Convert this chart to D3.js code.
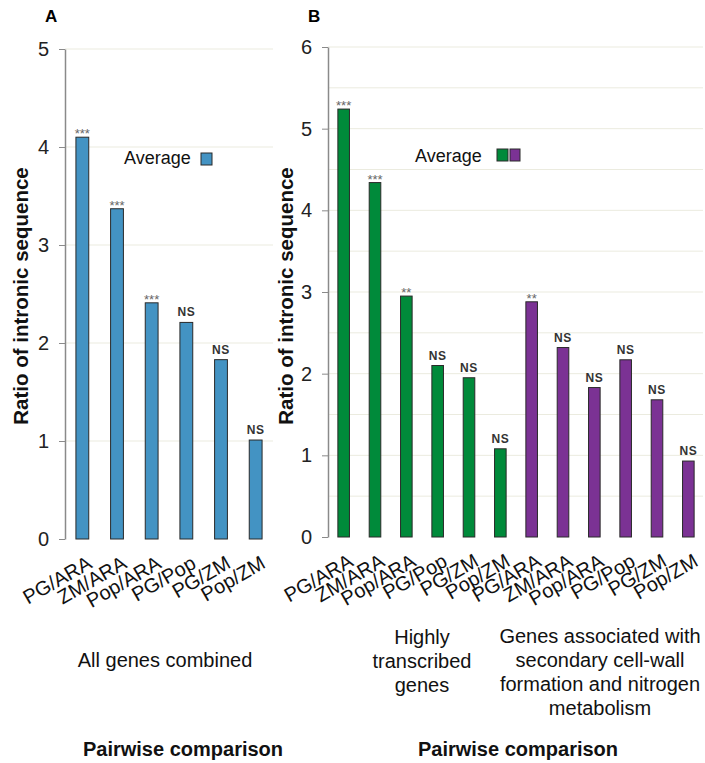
<!DOCTYPE html>
<html>
<head>
<meta charset="utf-8">
<script src="https://cdn.jsdelivr.net/npm/d3@7"></script>
<style>
  html, body { margin: 0; padding: 0; background: #fff; }
  svg { display: block; font-family: "Liberation Sans", Arial, sans-serif; }
</style>
</head>
<body>
<svg id="chart" width="705" height="763"></svg>
<script>
// ---- data ----
const catsA = ["PG/ARA", "ZM/ARA", "Pop/ARA", "PG/Pop", "PG/ZM", "Pop/ZM"];
const valsA = [4.10, 3.37, 2.41, 2.21, 1.83, 1.01];
const sigA  = ["***", "***", "***", "NS", "NS", "NS"];

const catsB = ["PG/ARA", "ZM/ARA", "Pop/ARA", "PG/Pop", "PG/ZM", "Pop/ZM",
               "PG/ARA", "ZM/ARA", "Pop/ARA", "PG/Pop", "PG/ZM", "Pop/ZM"];
const valsB = [5.24, 4.34, 2.95, 2.10, 1.95, 1.08, 2.88, 2.32, 1.83, 2.17, 1.68, 0.93];
const sigB  = ["***", "***", "**", "NS", "NS", "NS", "**", "NS", "NS", "NS", "NS", "NS"];
const groupB = ["high", "high", "high", "high", "high", "high",
                "cell", "cell", "cell", "cell", "cell", "cell"];

const ticksA = [0, 1, 2, 3, 4, 5];
const ticksB = [0, 1, 2, 3, 4, 5, 6];
const gridB  = [0.5, 1, 1.5, 2, 2.5, 3, 3.5, 4, 4.5, 5, 5.5, 6];

const colors = { all: "#4393c3", high: "#008a3a", cell: "#7b3294" };

const svg = d3.select("#chart");

function panel(opts) {
  const g = svg.append("g");
  const x = d3.scaleBand().domain(opts.cats.map((d, i) => i))
    .range([opts.x0, opts.x1]).paddingInner(0.63).paddingOuter(0.315);
  const y = d3.scaleLinear().domain([0, opts.max]).range([opts.y0, opts.y1]);

  // gridlines
  g.append("g").selectAll("line").data(opts.grid).join("line")
    .attr("x1", opts.x0).attr("x2", opts.gx1)
    .attr("y1", d => y(d)).attr("y2", d => y(d))
    .attr("stroke", "#ebebdf").attr("stroke-width", 1);

  // y axis
  const ya = g.append("g").attr("transform", `translate(${opts.x0},0)`)
    .call(d3.axisLeft(y).tickValues(opts.ticks).tickFormat(d3.format("d"))
      .tickSizeInner(6).tickSizeOuter(0).tickPadding(10));
  ya.select(".domain").attr("stroke", "#8a8a8a").attr("stroke-width", 1.5);
  ya.selectAll(".tick line").attr("stroke", "#8a8a8a");
  ya.selectAll(".tick text").attr("font-size", 20).attr("fill", "#222")
    .attr("font-family", "'Liberation Sans', Arial, sans-serif");

  // bars
  g.append("g").selectAll("rect").data(opts.vals).join("rect")
    .attr("x", (d, i) => x(i)).attr("width", x.bandwidth())
    .attr("y", d => y(d)).attr("height", d => y(0) - y(d))
    .attr("fill", (d, i) => opts.color(i))
    .attr("stroke", "#2a2a2a").attr("stroke-width", 1);

  // significance labels
  g.append("g").selectAll("text").data(opts.vals).join("text")
    .attr("x", (d, i) => x(i) + x.bandwidth() / 2)
    .attr("y", (d, i) => opts.sig[i] === "NS" ? y(d) - 6 : y(d) + 1)
    .attr("text-anchor", "middle")
    .attr("font-size", (d, i) => opts.sig[i] === "NS" ? 12 : 13)
    .attr("font-weight", (d, i) => opts.sig[i] === "NS" ? "bold" : "normal")
    .attr("letter-spacing", (d, i) => opts.sig[i] === "NS" ? 0.6 : 0)
    .attr("fill", (d, i) => opts.sig[i] === "NS" ? "#333" : "#666")
    .text((d, i) => opts.sig[i]);

  // x labels (rotated)
  const xa = g.append("g").attr("transform", `translate(0,${opts.y0})`)
    .call(d3.axisBottom(x).tickFormat(i => opts.cats[i]).tickSize(0));
  xa.select(".domain").remove();
  xa.selectAll(".tick text")
    .attr("font-size", 20).attr("fill", "#111")
    .attr("font-family", "'Liberation Sans', Arial, sans-serif")
    .attr("text-anchor", "end")
    .attr("dy", null).attr("y", 0)
    .attr("transform", "translate(11,28) rotate(-30)");

  // y title
  g.append("text")
    .attr("transform", `translate(${opts.titleX},${opts.titleY}) rotate(-90)`)
    .attr("text-anchor", "middle").attr("font-size", 20.5).attr("font-weight", "bold")
    .attr("fill", "#111").text("Ratio of intronic sequence");

  return { x, y, g };
}

panel({ cats: catsA, vals: valsA, sig: sigA, max: 5, ticks: ticksA, grid: ticksA.slice(1),
  x0: 65, x1: 273, gx1: 273, y0: 539, y1: 49, titleX: 28, titleY: 296,
  color: () => colors.all });

panel({ cats: catsB, vals: valsB, sig: sigB, max: 6, ticks: ticksB, grid: gridB,
  x0: 328, x1: 704, gx1: 703, y0: 537, y1: 47, titleX: 293, titleY: 296,
  color: i => colors[groupB[i]] });

// panel letters
svg.append("text").attr("x", 45).attr("y", 22).attr("font-size", 17).attr("font-weight", "bold").text("A");
svg.append("text").attr("x", 308).attr("y", 22).attr("font-size", 17).attr("font-weight", "bold").text("B");

// legends
svg.append("text").attr("x", 124).attr("y", 164).attr("font-size", 18).attr("fill", "#111").text("Average");
svg.append("rect").attr("x", 201).attr("y", 153).attr("width", 11).attr("height", 12)
  .attr("fill", colors.all).attr("stroke", "#2a2a2a");
svg.append("text").attr("x", 415).attr("y", 162).attr("font-size", 18).attr("fill", "#111").text("Average");
svg.append("rect").attr("x", 497).attr("y", 149).attr("width", 11).attr("height", 12)
  .attr("fill", colors.high).attr("stroke", "#2a2a2a");
svg.append("rect").attr("x", 510).attr("y", 149).attr("width", 10).attr("height", 12)
  .attr("fill", colors.cell).attr("stroke", "#2a2a2a");

// group captions
function lines(x, y0, arr, size, weight) {
  svg.append("g").selectAll("text").data(arr).join("text")
    .attr("x", x).attr("y", (d, i) => y0 + i * 24)
    .attr("text-anchor", "middle").attr("font-size", size)
    .attr("font-weight", weight).attr("fill", "#111").text(d => d);
}
lines(165, 667, ["All genes combined"], 20, "normal");
lines(422, 644, ["Highly", "transcribed", "genes"], 20, "normal");
lines(600, 643, ["Genes associated with", "secondary cell-wall", "formation and nitrogen", "metabolism"], 20, "normal");
lines(183, 756, ["Pairwise comparison"], 20, "bold");
lines(518, 756, ["Pairwise comparison"], 20, "bold");
</script>
</body>
</html>
